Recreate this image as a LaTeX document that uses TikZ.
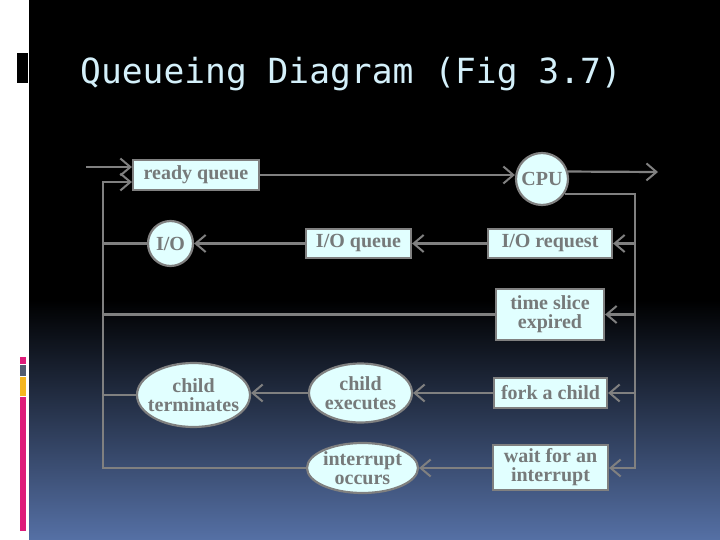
\documentclass[tikz,border=0pt]{standalone}
\usepackage{fontspec}
\setmainfont{Liberation Serif}
\newfontfamily\titlefont{DejaVu Sans Mono}
\usetikzlibrary{arrows.meta,shapes.geometric}
\definecolor{boxfill}{RGB}{225,255,255}
\definecolor{linegray}{RGB}{128,128,128}
\definecolor{txtgray}{RGB}{118,122,122}
\definecolor{bgblue}{RGB}{85,112,165}
\definecolor{titlecol}{RGB}{212,240,250}
\definecolor{barpink}{RGB}{222,28,122}
\definecolor{bargray}{RGB}{82,92,112}
\definecolor{barorange}{RGB}{245,182,32}
\begin{document}
\begin{tikzpicture}[x=1pt,y=-1pt,
  conn/.style={draw=linegray, line width=2.2pt},
  arr/.style={conn, -{Straight Barb[length=10pt,width=17pt,line width=2pt]}},
  nodetext/.style={text=txtgray, font=\bfseries\fontsize{20}{19}\selectfont, align=center},
  box/.style={rectangle, draw=linegray, line width=2.2pt, fill=boxfill, inner sep=0pt, nodetext},
  oval/.style={ellipse, draw=linegray, line width=2.2pt, fill=boxfill, inner xsep=-14pt, inner ysep=-5pt, nodetext},
  round/.style={circle, draw=linegray, line width=2.2pt, fill=boxfill, inner sep=0pt, nodetext}]
\useasboundingbox (0,0) rectangle (720,540);
% background
\fill[white] (0,0) rectangle (720,540);
\fill[black] (29,0) rectangle (720,301);
\shade[top color=black, bottom color=bgblue] (29,300) rectangle (720,540);
\fill[black] (17,53) rectangle (28,83);
\fill[barpink] (20,357) rectangle (26,364);
\fill[bargray] (20,365) rectangle (26,376);
\fill[barorange] (20,377) rectangle (26,396);
\fill[barpink] (20,397) rectangle (26,531);
% title
\node[anchor=base west, inner sep=0pt, text=titlecol, font=\titlefont\fontsize{34.6}{40}\selectfont] (title) at (80,84) {Queueing Diagram (Fig 3.7)};
% nodes
\node[box, minimum width=126pt, minimum height=30pt] (rq) at (196,175) {ready queue};
\node[round, minimum size=52pt] (cpu) at (542,179) {CPU};
\node[box, minimum width=124pt, minimum height=29pt] (ioreq) at (550,243.5) {I/O request};
\node[box, minimum width=105pt, minimum height=29pt] (ioq) at (358.5,243.5) {I/O queue};
\node[round, minimum size=45pt] (io) at (170.5,243.5) {I/O};
\node[box, minimum width=108pt, minimum height=51pt] (ts) at (550,314.5) {time slice\\expired};
\node[oval, minimum width=113pt, minimum height=64pt] (ct) at (193.5,395) {child\\terminates};
\node[oval, minimum width=103pt, minimum height=59pt] (ce) at (360.5,393) {child\\executes};
\node[box, minimum width=113pt, minimum height=30pt] (fork) at (550.5,393) {fork a child};
\node[oval, minimum width=111pt, minimum height=50pt] (intocc) at (362.5,468) {interrupt\\occurs};
\node[box, minimum width=115pt, minimum height=45pt] (wait) at (550.5,467.5) {wait for an\\interrupt};
% helper coordinates
\coordinate (in) at (86,167);
\coordinate (L) at (103,182);
\coordinate (out) at (658,172);
\coordinate (R) at (635,193);
% connectors
\draw[arr] (in) -- (in -| rq.west);
\draw[arr] (intocc.west) -| (L) -- (L -| rq.west);
\draw[conn] (io.west) -- (io.west -| L);
\draw[conn] (ts.west) -- (ts.west -| L);
\draw[conn] (ct.west) -- (ct.west -| L);
\draw[arr] (rq.east) -- (rq.east -| cpu.west);
\draw[arr] (cpu.16) -- (out);
\draw[arr] (cpu.-33) -| (R |- intocc.east) -- (wait.east |- intocc.east);
\draw[arr] (R |- ioreq.east) -- (ioreq.east);
\draw[arr] (R |- ts.east) -- (ts.east);
\draw[arr] (R |- fork.east) -- (fork.east);
\draw[arr] (ioreq) -- (ioq);
\draw[arr] (ioq) -- (io);
\draw[arr] (fork) -- (ce);
\draw[arr] (ce.west) -- (ce.west -| ct.east);
\draw[arr] (wait.west |- intocc.east) -- (intocc.east);
\end{tikzpicture}
\end{document}
